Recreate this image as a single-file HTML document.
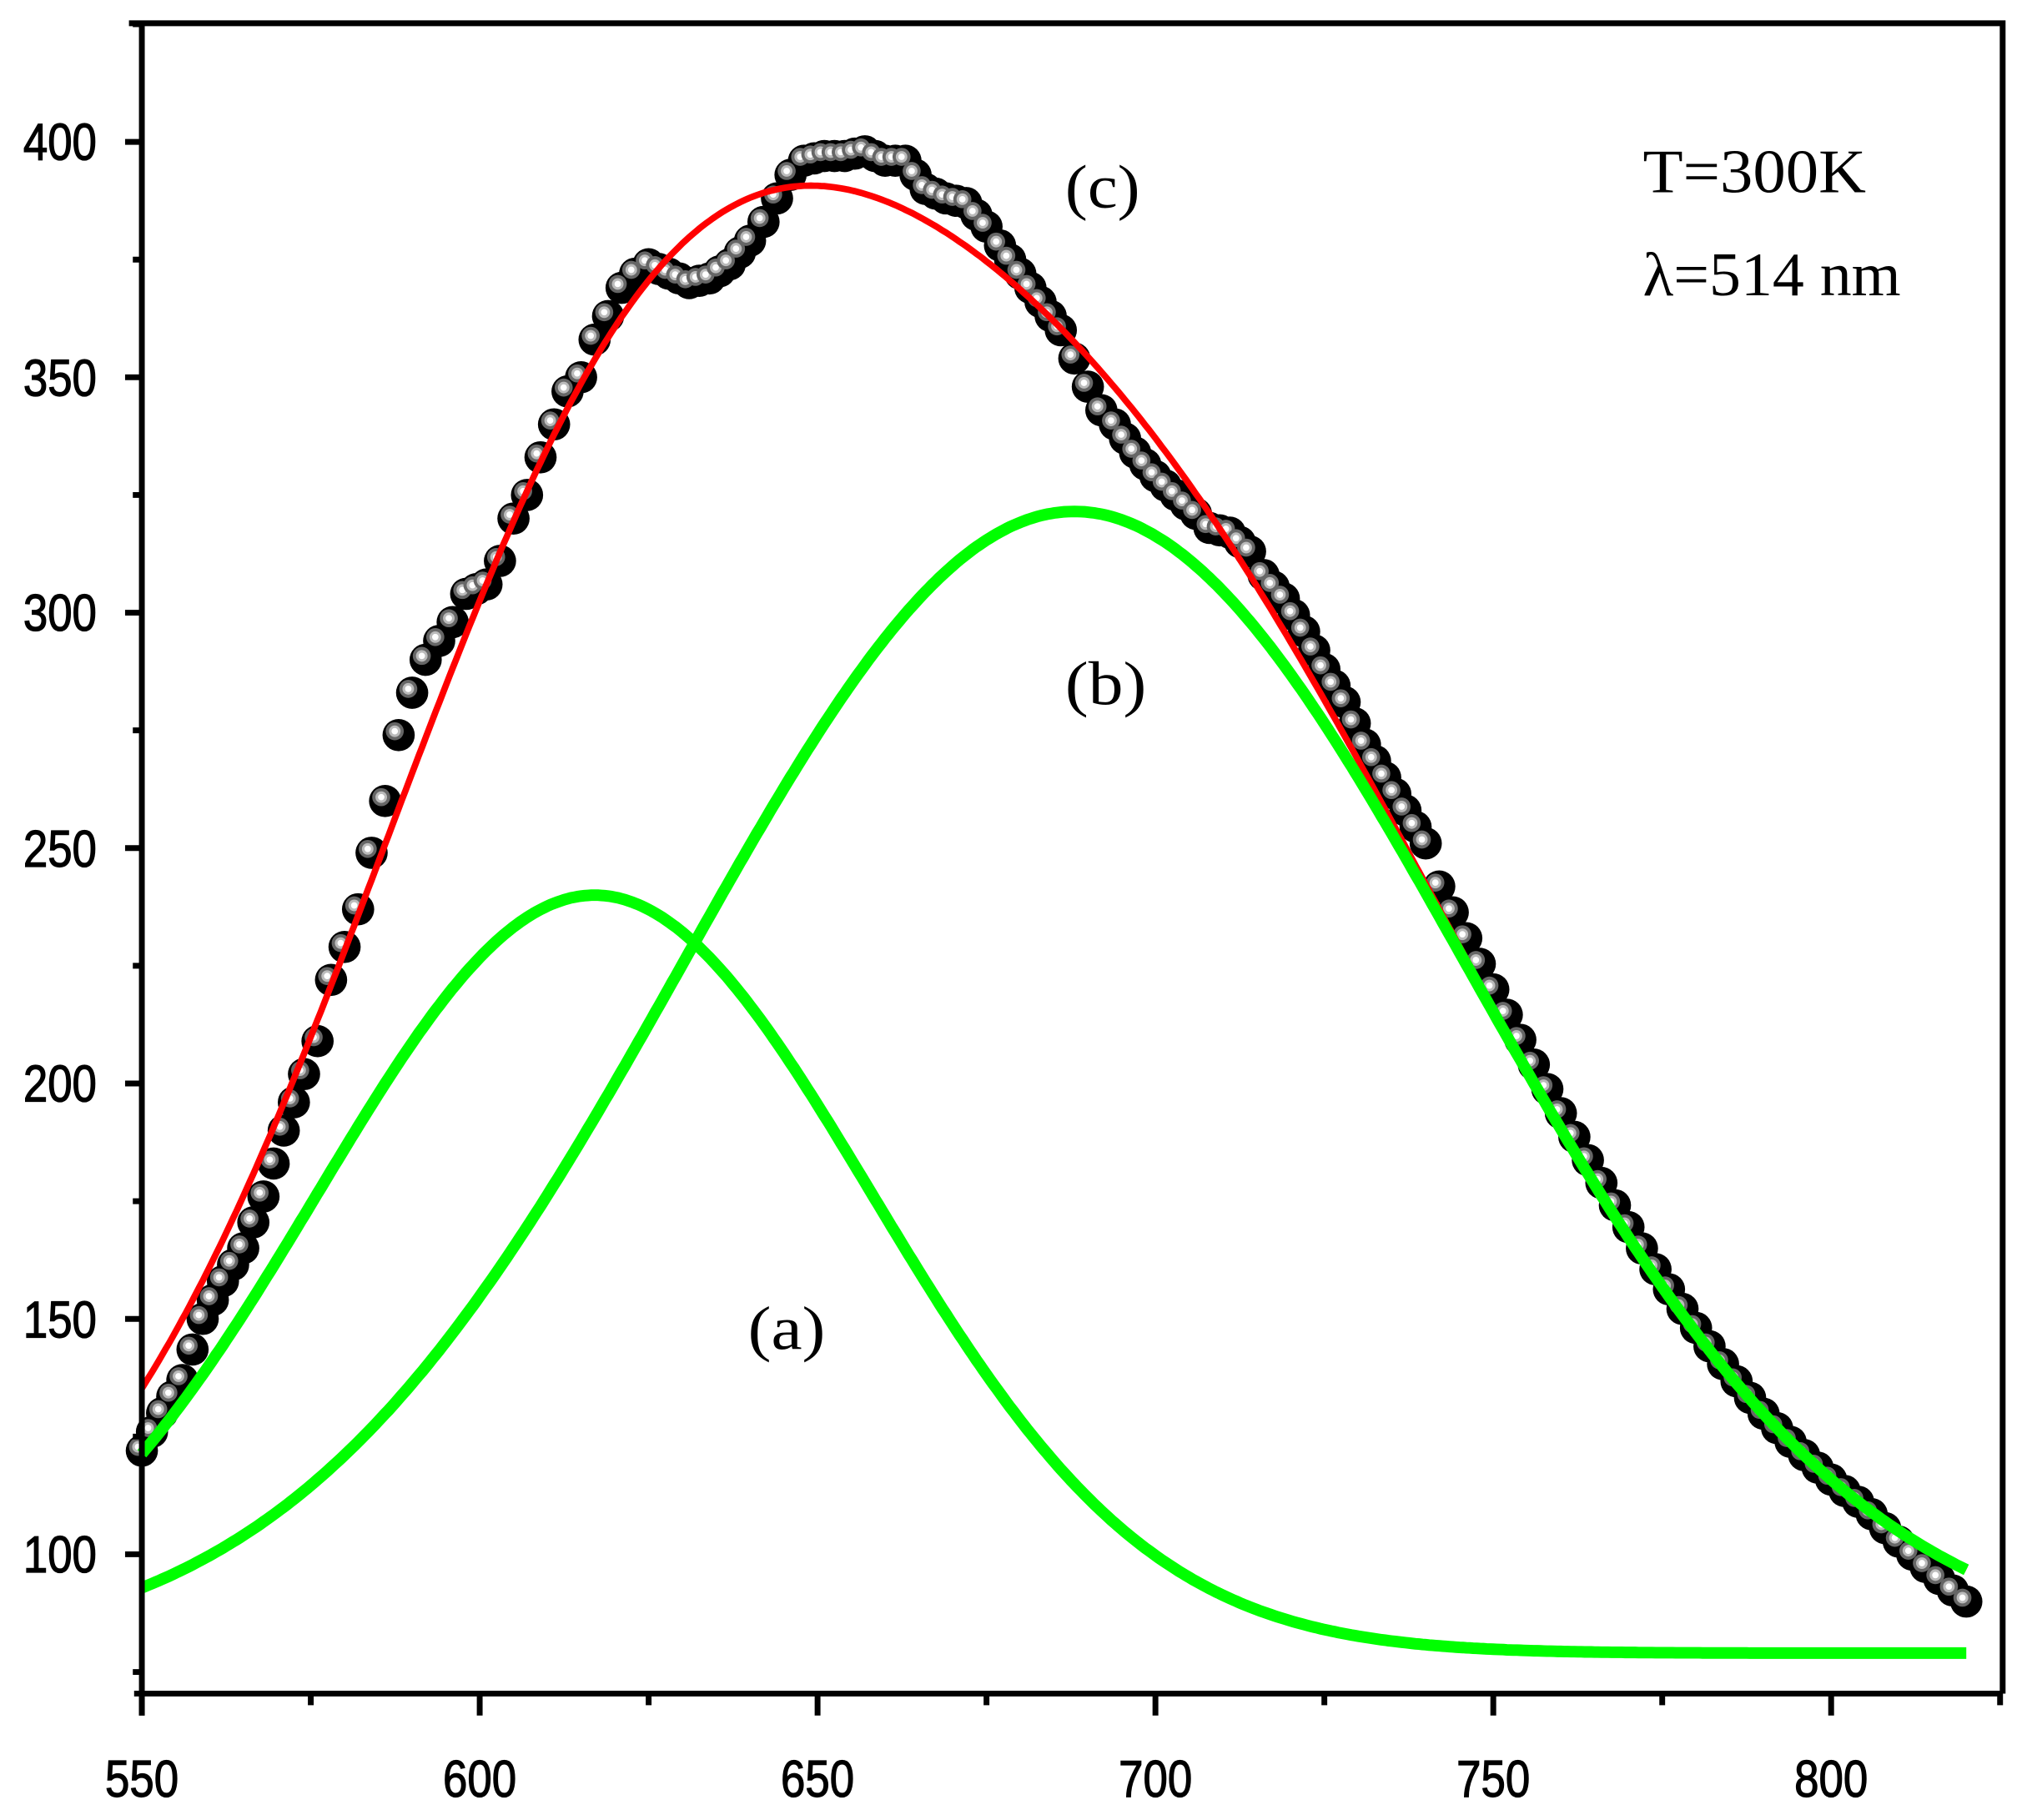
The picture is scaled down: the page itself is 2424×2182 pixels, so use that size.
<!DOCTYPE html>
<html><head><meta charset="utf-8"><style>html,body{margin:0;padding:0;background:#fff}svg{display:block}</style></head>
<body>
<svg id="s" xmlns="http://www.w3.org/2000/svg" width="2424" height="2182" viewBox="0 0 1568 1411" preserveAspectRatio="none">
<rect width="1568" height="1411" fill="#fff"/>
<g id="data"></g>
<path id="red" fill="none" stroke="#ff0000" stroke-width="5"/>
<path id="ga" fill="none" stroke="#00ff00" stroke-width="9"/>
<path id="gb" fill="none" stroke="#00ff00" stroke-width="9"/>
<g stroke="#000" fill="none">
<path d="M100 18 H1553 V1313 M110 18 V1330 M104 1313 H1553" stroke-width="4.5"/>
<g><path id="ticks" stroke-width="4.5"/></g>
</g>
<g font-family="'Liberation Sans',Arial,sans-serif" font-size="40" fill="#000" stroke="#000" stroke-width="0.8">
<text x="110" y="1393" text-anchor="middle" textLength="57" lengthAdjust="spacingAndGlyphs">550</text>
<text x="372" y="1393" text-anchor="middle" textLength="57" lengthAdjust="spacingAndGlyphs">600</text>
<text x="634" y="1393" text-anchor="middle" textLength="57" lengthAdjust="spacingAndGlyphs">650</text>
<text x="896" y="1393" text-anchor="middle" textLength="57" lengthAdjust="spacingAndGlyphs">700</text>
<text x="1158" y="1393" text-anchor="middle" textLength="57" lengthAdjust="spacingAndGlyphs">750</text>
<text x="1420" y="1393" text-anchor="middle" textLength="57" lengthAdjust="spacingAndGlyphs">800</text>
<text x="18" y="124" textLength="57" lengthAdjust="spacingAndGlyphs">400</text>
<text x="18" y="307" textLength="57" lengthAdjust="spacingAndGlyphs">350</text>
<text x="18" y="489" textLength="57" lengthAdjust="spacingAndGlyphs">300</text>
<text x="18" y="672" textLength="57" lengthAdjust="spacingAndGlyphs">250</text>
<text x="18" y="854" textLength="57" lengthAdjust="spacingAndGlyphs">200</text>
<text x="18" y="1037" textLength="57" lengthAdjust="spacingAndGlyphs">150</text>
<text x="18" y="1219" textLength="57" lengthAdjust="spacingAndGlyphs">100</text>
</g>
<g font-family="'Liberation Serif','Times New Roman',serif" font-size="48" fill="#000">
<text x="826" y="161" textLength="58" lengthAdjust="spacingAndGlyphs">(c)</text>
<text x="826" y="546" textLength="63" lengthAdjust="spacingAndGlyphs">(b)</text>
<text x="580" y="1046" textLength="60" lengthAdjust="spacingAndGlyphs">(a)</text>
<text x="1274" y="149" textLength="173" lengthAdjust="spacingAndGlyphs">T=300K</text>
<text x="1274" y="229" textLength="200" lengthAdjust="spacingAndGlyphs">λ=514 nm</text>
</g>
</svg>
<script>
function X(v){return 110+(v-550)*5.24;}
function Y(v){return 110+(400-v)*3.65;}
function A(x){return 161*Math.exp(-Math.pow(x-617,2)/(2*41*41));}
function B(x){return 242.5*Math.exp(-Math.pow(x-688,2)/(2*57.7*57.7));}
function path(f){var d="";for(var x=550;x<=820;x+=0.5){d+=(x==550?"M":"L")+X(x).toFixed(1)+" "+Y(f(x)).toFixed(1);}return d;}
document.getElementById("ga").setAttribute("d",path(function(x){return 79+A(x);}));
document.getElementById("gb").setAttribute("d",path(function(x){return 79+B(x);}));
document.getElementById("red").setAttribute("d",path(function(x){return 79+A(x)+B(x);}));
var t="";
for(var v=550;v<=825;v+=25){var big=(v%50==0);t+="M"+X(v)+" 1313 V"+(1313+(big?17:9));}
for(var v=75;v<=425;v+=25){var big=(v%50==0);t+="M110 "+Y(v)+" H"+(110-(big?13:7));}
document.getElementById("ticks").setAttribute("d",t);
var cp=[[550,122],[553,130],[556,137],[559,150],[562,158],[565,165],[568,176],[571,190],[574,202],[576,209],[578,222],[580,229],[582,237],[584,249],[586,260],[588,274],[590,283],[592,290],[594,294],[596,298],[598,304],[601,306],[603,311],[605,320],[607,325],[609,333],[611,340],[613,347],[615,350],[617,358],[619,363],[621,369],[623,372],[625,374],[628,372],[631,370],[634,371],[637,374],[640,379],[642,383],[644,388],[646,393],[648,396],[651,397],[654,397],[657,398],[660,396],[663,396],[666,390],[669,388],[672,387],[675,382],[677,378],[680,372],[683,366],[686,360],[688,354],[690,348],[692,343],[694,340],[697,334],[700,329],[703,325],[706,321],[708,318],[711,317],[714,313],[716,308],[719,303],[722,296],[725,288],[728,281],[731,272],[734,265],[737,258],[740,251]];
for(var x=742;x<=820;x+=2){var dv=0;if(x<790)dv=5*(790-x)/50;if(x>805)dv=-(x-805)*0.45;cp.push([x,79+A(x)+B(x)+dv]);}
var pts=[];
for(var i=0;i<cp.length-1;i++){var a=cp[i],b=cp[i+1];pts.push(a);var n=Math.max(1,Math.round((b[0]-a[0])/1.8));for(var k=1;k<n;k++){var f=k/n;pts.push([a[0]+(b[0]-a[0])*f,a[1]+(b[1]-a[1])*f]);}}
pts.push(cp[cp.length-1]);
var g=document.getElementById("data"),h="";
pts.forEach(function(p){var cx=X(p[0]),cy=Y(p[1]);
h+='<circle cx="'+cx+'" cy="'+cy+'" r="12.5" fill="#000"/>';});
pts.forEach(function(p){var cx=X(p[0])-3,cy=Y(p[1])-3;
h+='<circle cx="'+cx+'" cy="'+cy+'" r="7" fill="#666"/><circle cx="'+cx+'" cy="'+cy+'" r="4.5" fill="#bbb"/><circle cx="'+cx+'" cy="'+cy+'" r="2.5" fill="#fff"/>';});
g.innerHTML=h;
</script>
</body></html>
